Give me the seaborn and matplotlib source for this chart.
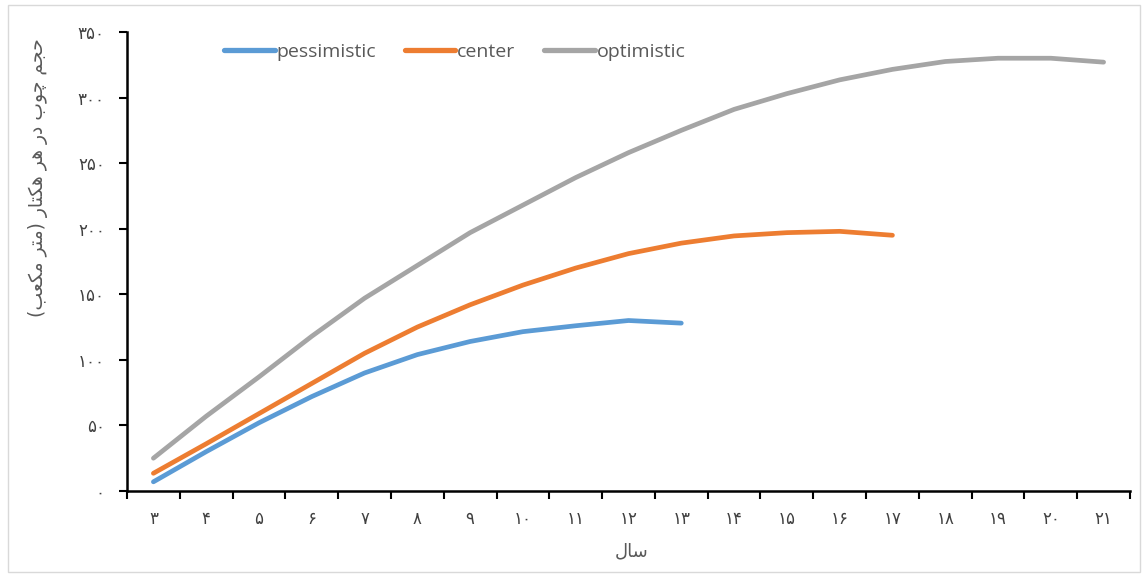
import matplotlib
matplotlib.use("Agg")
import matplotlib.pyplot as plt
from matplotlib.patches import Rectangle
import numpy as np
import pandas as pd
import seaborn as sns

# Wood volume per hectare by stand age, three growth scenarios
years_pessimistic = list(range(3, 14))
pessimistic = [7, 30, 52, 72, 90, 104, 114, 121.5, 126, 130, 128]

years_center = list(range(3, 18))
center = [13.5, 36, 59, 82, 105, 125, 142, 157, 170, 181, 189, 194.5, 197, 198, 195]

years_optimistic = list(range(3, 22))
optimistic = [25, 57, 87, 118, 147, 172, 197, 218, 239, 258, 275, 291, 303,
              313.5, 321.5, 327.5, 330, 330, 327]

scenario_names = ["pessimistic", "center", "optimistic"]
scenario_colors = ["#5B9BD5", "#ED7D31", "#A5A5A5"]

x_label = "سال"
y_label = "حجم چوب در هر هکتار (متر مکعب)"
y_ticks = [0, 50, 100, 150, 200, 250, 300, 350]

PERSIAN_DIGITS = "۰۱۲۳۴۵۶۷۸۹"


def fa_num(n):
    return "".join(PERSIAN_DIGITS[int(d)] for d in str(n))


# contextual forms: isolated, final, initial, medial
FORMS = {
    "ا": ("\uFE8D", "\uFE8E", None, None),
    "ب": ("\uFE8F", "\uFE90", "\uFE91", "\uFE92"),
    "ت": ("\uFE95", "\uFE96", "\uFE97", "\uFE98"),
    "ج": ("\uFE9D", "\uFE9E", "\uFE9F", "\uFEA0"),
    "ح": ("\uFEA1", "\uFEA2", "\uFEA3", "\uFEA4"),
    "چ": ("\uFB7A", "\uFB7B", "\uFB7C", "\uFB7D"),
    "د": ("\uFEA9", "\uFEAA", None, None),
    "ر": ("\uFEAD", "\uFEAE", None, None),
    "س": ("\uFEB1", "\uFEB2", "\uFEB3", "\uFEB4"),
    "ع": ("\uFEC9", "\uFECA", "\uFECB", "\uFECC"),
    "ک": ("\uFB8E", "\uFB8F", "\uFB90", "\uFB91"),
    "ل": ("\uFEDD", "\uFEDE", "\uFEDF", "\uFEE0"),
    "م": ("\uFEE1", "\uFEE2", "\uFEE3", "\uFEE4"),
    "ه": ("\uFEE9", "\uFEEA", "\uFEEB", "\uFEEC"),
    "و": ("\uFEED", "\uFEEE", None, None),
}


def shape_rtl(text):
    """Join Persian letters into their contextual forms and lay them out right to left."""
    out = []
    for i, ch in enumerate(text):
        if ch not in FORMS:
            out.append(ch)
            continue
        prev = text[i - 1] if i > 0 else ""
        nxt = text[i + 1] if i + 1 < len(text) else ""
        joins_prev = prev in FORMS and FORMS[prev][2] is not None
        joins_next = nxt in FORMS and FORMS[ch][2] is not None
        iso, fin, ini, med = FORMS[ch]
        if joins_prev and joins_next:
            out.append(med)
        elif joins_prev:
            out.append(fin)
        elif joins_next:
            out.append(ini)
        else:
            out.append(iso)
    mirror = {"(": ")", ")": "("}
    return "".join(mirror.get(c, c) for c in reversed(out))


frames = []
for name, yrs, vals in zip(scenario_names,
                           [years_pessimistic, years_center, years_optimistic],
                           [pessimistic, center, optimistic]):
    frames.append(pd.DataFrame({"year": yrs, "volume": vals, "scenario": name}))
df = pd.concat(frames, ignore_index=True)

sns.set_theme(style="white")
plt.rcParams["font.family"] = ["DejaVu Sans"]

W, H, DPI = 1148, 577, 100
fig = plt.figure(figsize=(W / DPI, H / DPI), dpi=DPI)
ax = fig.add_axes([127 / W, 1 - 491 / H, (1130 - 127) / W, (491 - 32) / H])

sns.lineplot(data=df, x="year", y="volume", hue="scenario",
             hue_order=scenario_names, palette=scenario_colors,
             linewidth=3.4, ax=ax, legend=True)
for line in ax.get_lines():
    line.set_solid_capstyle("round")
    line.set_solid_joinstyle("round")

ax.set_xlim(2.5, 21.5)
ax.set_ylim(0, 350)

all_years = years_optimistic
ax.set_xticks(all_years)
ax.set_xticklabels([fa_num(y) for y in all_years], fontsize=12, color="#404040")
ax.set_xticks(np.arange(2.5, 22.0, 1.0), minor=True)
ax.tick_params(axis="x", which="major", length=0, pad=14)
ax.tick_params(axis="x", which="minor", length=6, width=1.5, direction="out",
               color="black", bottom=True)

ax.set_yticks(y_ticks)
ax.set_yticklabels([fa_num(v) for v in y_ticks], fontsize=12, color="#404040")
ax.tick_params(axis="y", length=6, width=1.5, direction="out", color="black",
               left=True, pad=10)

for side in ["top", "right"]:
    ax.spines[side].set_visible(False)
for side in ["left", "bottom"]:
    ax.spines[side].set_color("black")
    ax.spines[side].set_linewidth(1.8)

ax.set_xlabel("")
ax.set_ylabel("")
fig.text(632 / W, 1 - 551 / H, shape_rtl(x_label), ha="center", va="center",
         fontsize=13, color="#595959")
fig.text(38 / W, 1 - 178 / H, shape_rtl(y_label), ha="center", va="center",
         rotation=90, fontsize=13.5, color="#595959")

handles, labels = ax.get_legend_handles_labels()
leg = ax.legend(handles, labels, ncol=3, frameon=False, loc="center left",
                bbox_to_anchor=(224 / W, 1 - 52 / H), bbox_transform=fig.transFigure,
                borderaxespad=0, borderpad=0, handlelength=2.6, handletextpad=0.08,
                columnspacing=1.5, prop={"family": "Open Sans", "size": 14})
for t in leg.get_texts():
    t.set_color("#595959")
for lh in leg.get_lines():
    lh.set_linewidth(3.8)

fig.patches.append(Rectangle((8 / W, 5 / H), (1140 - 8) / W, (572 - 5) / H,
                             transform=fig.transFigure, fill=False,
                             edgecolor="#D9D9D9", linewidth=1.0))

fig.savefig("out.png", dpi=DPI, facecolor="white")
